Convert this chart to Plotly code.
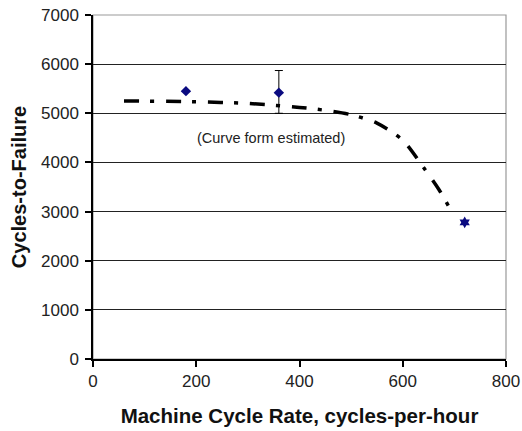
import plotly.graph_objects as go

# Data
pt_x = [180, 360]
pt_y = [5450, 5420]
err_plus = [0, 450]
err_minus = [0, 420]
star_x = [720]
star_y = [2780]
curve_x = [60, 200, 300, 400, 450, 500, 550, 600, 640, 670, 693]
curve_y = [5250, 5235, 5200, 5120, 5060, 4970, 4800, 4450, 3900, 3450, 3030]
x_ticks = [0, 200, 400, 600, 800]
y_ticks = [0, 1000, 2000, 3000, 4000, 5000, 6000, 7000]

fig = go.Figure()
fig.add_trace(go.Scatter(
    x=curve_x, y=curve_y, mode="lines",
    line=dict(color="black", width=3.5, dash="15px,11px,4px,12px", shape="spline", smoothing=0.8),
    showlegend=False, hoverinfo="skip"))
fig.add_trace(go.Scatter(
    x=pt_x, y=pt_y, mode="markers",
    marker=dict(symbol="diamond", color="#0a0a80", size=8),
    error_y=dict(type="data", array=err_plus, arrayminus=err_minus, symmetric=False,
                 color="black", thickness=1, width=4),
    showlegend=False))
fig.add_trace(go.Scatter(
    x=star_x, y=star_y, mode="markers",
    marker=dict(symbol="hexagram", color="#0a0a80", size=9),
    showlegend=False))

fig.add_annotation(x=345, y=4490, text="(Curve form estimated)", showarrow=False,
                   font=dict(family="Arial, Liberation Sans", size=14.5, color="#222"))

fig.update_layout(
    width=522, height=431,
    margin=dict(l=93, r=16, t=15, b=72),
    paper_bgcolor="white", plot_bgcolor="white",
    font=dict(family="Arial, Liberation Sans", color="#222"),
)
fig.update_xaxes(
    range=[0, 800], tickvals=x_ticks, showgrid=False, zeroline=False, automargin=False,
    showline=True, linecolor="black", linewidth=1.5, mirror=False,
    ticks="outside", tickcolor="black", ticklen=6, tickwidth=1.5,
    tickfont=dict(size=17), ticklabeloverflow="allow",
    title=dict(text="<b>Machine Cycle Rate, cycles-per-hour</b>", font=dict(size=20.5, color="#111"), standoff=18),
)
fig.update_yaxes(
    range=[0, 7000], tickvals=y_ticks, showgrid=True, gridcolor="#222", gridwidth=1.2,
    zeroline=False, showline=True, linecolor="black", linewidth=1.5, automargin=False,
    ticks="outside", tickcolor="black", ticklen=6, tickwidth=1.5,
    tickfont=dict(size=17), ticklabelstandoff=3, ticklabeloverflow="allow",
    title=dict(text="<b>Cycles-to-Failure</b>", font=dict(size=20, color="#111"), standoff=9),
)
# grey right/top border
fig.add_shape(type="rect", xref="paper", yref="paper", x0=0, y0=0, x1=1, y1=1,
              line=dict(color="#999", width=1.2), layer="between")

fig.write_html("out.html", config={"displayModeBar": False},
               post_script="document.body.style.margin='0';document.body.style.overflow='hidden';")
